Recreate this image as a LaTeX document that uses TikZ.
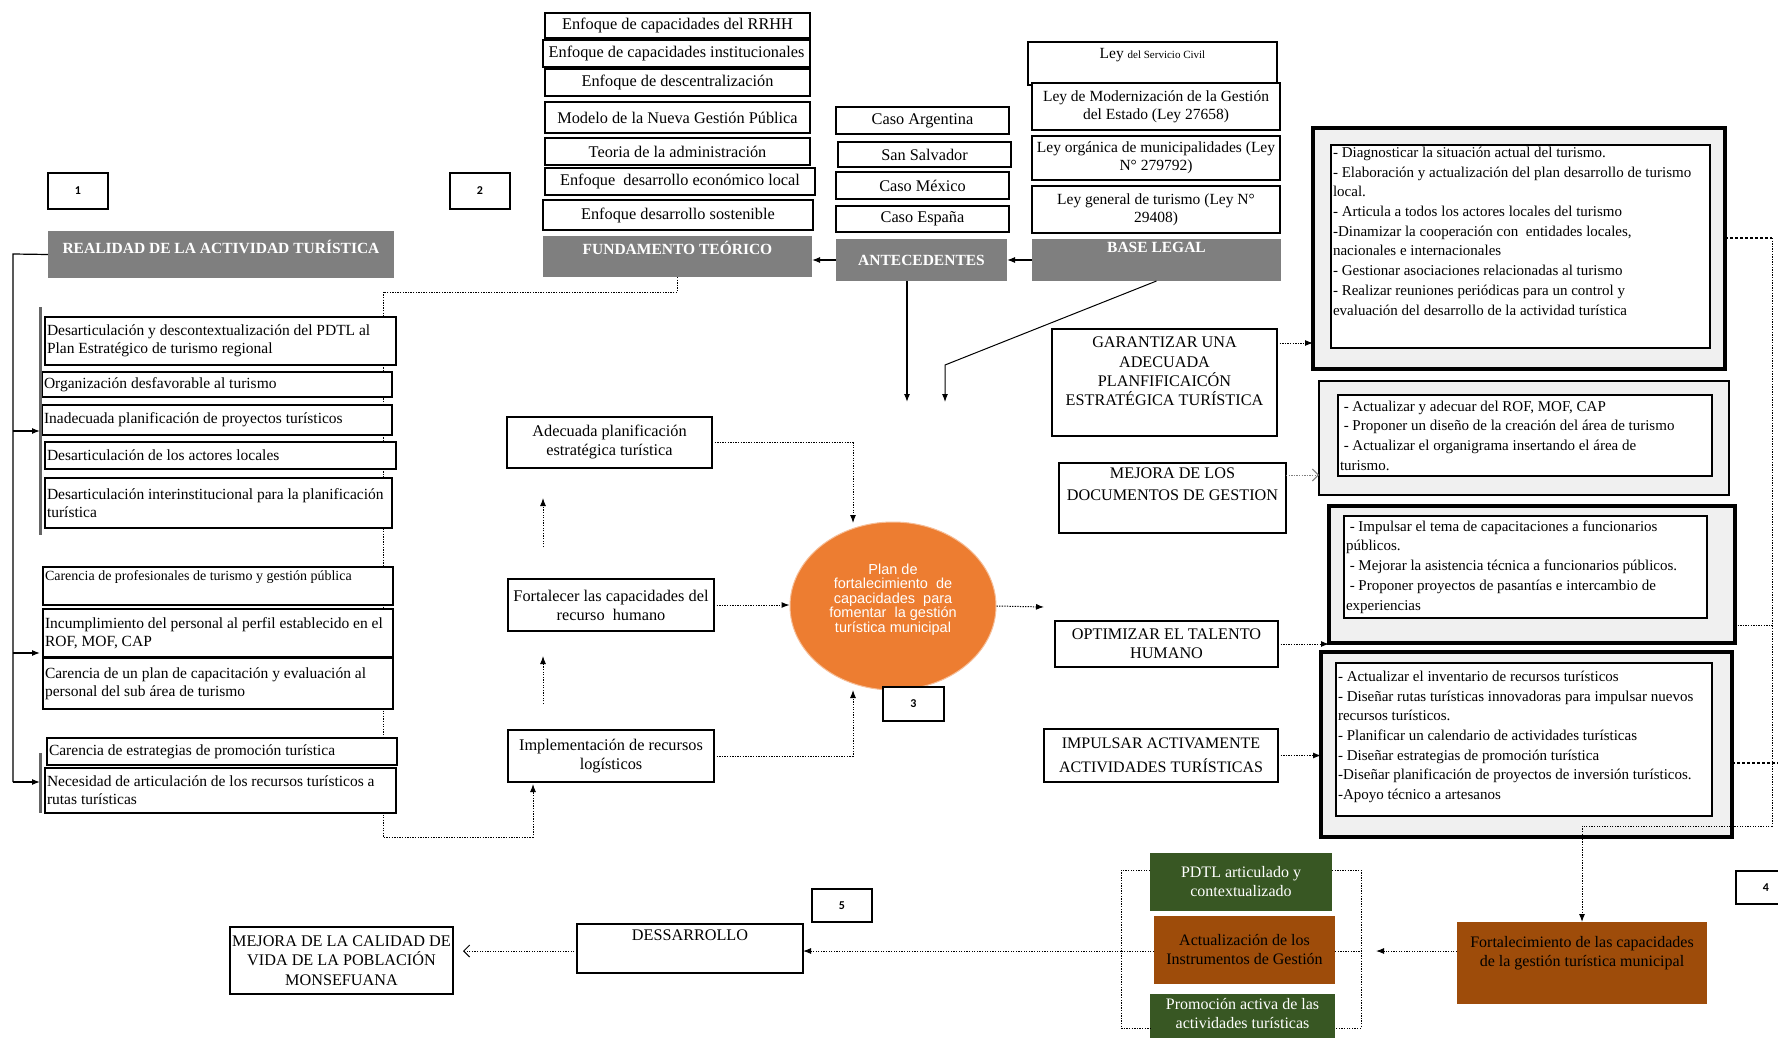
\documentclass[tikz,border=0pt]{standalone}
\usepackage{fontspec}
\setmainfont{Liberation Serif}
\newfontfamily\arialf{Liberation Sans}
\newfontfamily\calf{Carlito}
\usetikzlibrary{shapes.geometric,arrows.meta,calc}
\pgfdeclarelayer{bg}
\pgfsetlayers{bg,main}
\newcommand\setfs[2]{\fontsize{#1}{#2}\selectfont}
% #1 style, #2 name, #3 x1, #4 y1, #5 x2, #6 y2, #7 vertical pos (t/c), #8 text
\newcommand\BX[8]{\node[#1,inner sep=2pt,outer sep=0pt,anchor=north west] (#2) at (#3,#4) {\parbox[c][\dimexpr#6pt-#4pt-4pt\relax][#7]{\dimexpr#5pt-#3pt-4pt\relax}{#8}};}
\definecolor{hgray}{RGB}{127,127,127}
\definecolor{lgray}{RGB}{240,240,240}
\definecolor{orng}{RGB}{237,125,49}
\definecolor{dgreen}{RGB}{56,87,35}
\definecolor{brwn}{RGB}{158,76,10}
\begin{document}
\begin{tikzpicture}[x=1pt,y=-1pt,
  bx/.style={draw,line width=1.3pt,fill=white,font=\setfs{16.3}{19}},
  bxl/.style={draw,line width=1.3pt,fill=white,font=\setfs{15.5}{18}},
  bxs/.style={draw,line width=1.3pt,fill=white,font=\setfs{14}{16}},
  bxc/.style={draw,line width=1.3pt,fill=white,font=\setfs{16.2}{19.4}},
  hdr/.style={fill=hgray,text=white,font=\bfseries\setfs{15.5}{18}},
  nb/.style={draw,line width=2.4pt,fill=white,font=\calf\bfseries\setfs{12}{14}},
  rout/.style={draw,line width=3.2pt,fill=lgray},
  routt/.style={draw,line width=1.3pt,fill=lgray},
  rin/.style={draw,line width=1.4pt,fill=white,font=\setfs{15}{19.7}},
  grn/.style={fill=dgreen,text=white,font=\setfs{16}{19}},
  brn/.style={fill=brwn,text=black,font=\setfs{16}{19}},
  ln/.style={line width=1.2pt},
  arr/.style={line width=1.2pt,-{Latex[length=8pt,width=6pt]}},
  darr/.style={line width=1pt,dash pattern=on 1.3pt off 1.3pt,-{Latex[length=8pt,width=6pt]}},
  oarr/.style={line width=1pt,dash pattern=on 1.3pt off 1.3pt,-{Straight Barb[length=6pt,width=12pt]}},
  dots/.style={line width=1pt,dash pattern=on 1.3pt off 1.3pt},
  bdots/.style={line width=2pt,dash pattern=on 2.5pt off 2.5pt},
  bar/.style={line width=3pt,hgray!80!black}]
\useasboundingbox (0,0) rectangle (1778,1038);
\clip (0,0) rectangle (1778,1038);
\begin{pgfonlayer}{bg}
\fill[white] (0,0) rectangle (1778,1038);
\end{pgfonlayer}

% ---------------- left column ----------------
\BX{nb}{n1}{48}{173}{108}{209}{c}{\centering 1}
\BX{hdr}{realidad}{48}{231}{394}{278}{t}{\centering\vspace{7pt}REALIDAD DE LA ACTIVIDAD TURÍSTICA}
\BX{bxl}{l1}{45}{317}{396}{365}{c}{\raggedright Desarticulación y descontextualización del PDTL al\\Plan Estratégico de turismo regional}
\BX{bxl}{l2}{42}{372}{392}{397}{c}{\raggedright Organización desfavorable al turismo}
\BX{bxl}{l3}{42}{405}{392}{435}{c}{\raggedright Inadecuada planificación de proyectos turísticos}
\BX{bxl}{l4}{45}{442}{396}{469}{c}{\raggedright Desarticulación de los actores locales}
\BX{bxl}{l5}{45}{478}{392}{528}{c}{\raggedright Desarticulación interinstitucional para la planificación\\turística}
\BX{bxs}{l6}{43}{567}{393}{605}{t}{\raggedright\vspace{2pt}Carencia de profesionales de turismo y gestión pública}
\BX{bxl}{l7}{43}{609}{393}{657}{c}{\raggedright Incumplimiento del personal al perfil establecido en el\\ROF, MOF, CAP}
\BX{bxl}{l8}{43}{658}{393}{709}{c}{\raggedright Carencia de un plan de capacitación y evaluación al\\personal del sub área de turismo}
\BX{bxl}{l9}{47}{738}{397}{765}{c}{\raggedright Carencia de estrategias de promoción turística}
\BX{bxl}{l10}{45}{768}{396}{813}{c}{\raggedright Necesidad de articulación de los recursos turísticos a\\rutas turísticas}

\coordinate (trunk) at (13,254);
\coordinate (b1) at (40,431);
\coordinate (b2) at (40,653);
\coordinate (b3) at (40,782);
\coordinate (gb1t) at (40,307);
\coordinate (gb1b) at (40,535);
\coordinate (gb2t) at (40,753);
\coordinate (gb2b) at (40,813);
\draw[bar] (gb1t) -- (gb1b);
\draw[bar] (gb2t) -- (gb2b);
\draw[ln] (realidad.west) -- (trunk) -- (trunk |- b3);
\draw[arr] (trunk |- b1) -- (b1);
\draw[arr] (trunk |- b2) -- (b2);
\draw[arr] (trunk |- b3) -- (b3);

% ---------------- theory / antecedents / legal ----------------
\BX{nb}{n2}{450}{173}{510}{209}{c}{\centering 2}
\BX{bx}{e1}{545}{13}{810}{38}{c}{\centering Enfoque de capacidades del RRHH}
\BX{bx}{e2}{543}{40}{810}{67}{c}{\centering Enfoque de capacidades institucionales}
\BX{bx}{e3}{545}{69}{810}{96}{c}{\centering Enfoque de descentralización}
\BX{bx}{e4}{545}{102}{810}{133}{c}{\centering Modelo de la Nueva Gestión Pública}
\BX{bx}{e5}{545}{138}{810}{165}{c}{\centering Teoria de la administración}
\BX{bx}{e6}{545}{168}{815}{195}{c}{\centering Enfoque\ \ desarrollo económico local}
\BX{bx}{e7}{543}{200}{813}{230}{c}{\centering Enfoque desarrollo sostenible}
\BX{hdr}{fund}{543}{236}{812}{277}{t}{\centering\vspace{3pt}FUNDAMENTO TEÓRICO}

\BX{bx}{c1}{836}{107}{1009}{134}{c}{\centering Caso Argentina}
\BX{bx}{c2}{838}{142}{1011}{167}{c}{\centering San Salvador}
\BX{bx}{c3}{836}{172}{1009}{199}{c}{\centering Caso México}
\BX{bx}{c4}{836}{206}{1009}{232}{c}{\centering Caso España}
\BX{hdr}{ante}{836}{239}{1007}{281}{c}{\centering ANTECEDENTES}

\BX{bxl}{ley1}{1028}{42}{1277}{85}{t}{\centering\vspace{4pt}Ley {\setfs{11}{13}del Servicio Civil}}
\BX{bxl}{ley2}{1032}{83}{1280}{130}{c}{\centering Ley de Modernización de la Gestión\\del Estado (Ley 27658)}
\BX{bxl}{ley3}{1032}{136}{1280}{180}{c}{\centering Ley orgánica de municipalidades (Ley\\N° 279792)}
\BX{bxl}{ley4}{1032}{186}{1280}{233}{c}{\centering Ley general de turismo (Ley N°\\29408)}
\BX{hdr}{base}{1032}{239}{1281}{281}{t}{\centering\vspace{1pt}BASE LEGAL}

\draw[arr] (base.west) -- (ante.east);
\draw[arr] (ante.west) -- (ante.west -| fund.east);
\coordinate (d1) at (907,402);
\coordinate (d2k) at (945,365);
\coordinate (d2) at (945,402);
\draw[arr] (d1 |- ante.south) -- (d1);
\draw[arr,line width=1pt] (base.south) -- (d2k) -- (d2);

% ---------------- middle ----------------
\BX{bx}{ad}{507}{417}{712}{468}{c}{\centering Adecuada planificación\\estratégica turística}
\BX{bx}{fo}{508}{579}{714}{631}{c}{\centering Fortalecer las capacidades del\\recurso\ \ humano}
\BX{bx}{im}{508}{730}{714}{782}{c}{\centering Implementación de recursos\\logísticos}

\node[ellipse,fill=orng,draw=orng!50!white,line width=1pt,minimum width=206pt,minimum height=168pt,inner sep=0pt,
  text=white,font=\arialf\setfs{14.5}{14.5},align=center] (pl) at (893,606)
  {Plan de\\fortalecimiento\ \ de\\capacidades\ \ para\\fomentar\ \ la gestión\\turística municipal\\[2pt]};
\BX{nb}{n3}{883}{687}{944}{721}{c}{\centering 3}

\coordinate (pin1) at (853,523);
\coordinate (pin2) at (853,690);
\coordinate (pout) at (1044,607);
\coordinate (u1a) at (543,547);
\coordinate (u1b) at (543,498);
\coordinate (u2a) at (543,704);
\coordinate (u2b) at (543,656);
\draw[darr] (ad.east) -| (pin1);
\draw[darr] (fo.east) -- (fo.east -| pl.west);
\draw[darr] (im.east) -| (pin2);
\draw[darr] (pl.east) -- (pout);
\draw[darr] (u1a) -- (u1b);
\draw[darr] (u2a) -- (u2b);

\begin{pgfonlayer}{bg}
\coordinate (fb1) at (383,292);
\coordinate (fb2) at (383,837);
\coordinate (pim) at (533,784);
\draw[darr] (fund.south) |- (fb1) -- (fb2) -| (pim);
\end{pgfonlayer}

% ---------------- right: objectives ----------------
\BX{bxc}{gar}{1052}{329}{1277}{436}{t}{\centering\vspace{6pt}GARANTIZAR UNA\\ADECUADA\\PLANFIFICAICÓN\\ESTRATÉGICA TURÍSTICA}
\BX{bxc}{mej}{1059}{463}{1286}{533}{t}{\centering\vspace{3pt}\setfs{16.2}{22}MEJORA DE LOS\\DOCUMENTOS DE GESTION}
\BX{bxc}{opt}{1055}{621}{1278}{667}{c}{\centering OPTIMIZAR EL TALENTO\\HUMANO}
\BX{bxc}{imp}{1044}{729}{1278}{782}{c}{\centering\setfs{16}{24}IMPULSAR ACTIVAMENTE\\ACTIVIDADES TURÍSTICAS}

\BX{rout}{r1o}{1313}{128}{1725}{369}{c}{\leavevmode}
\BX{rin}{r1i}{1331}{145}{1710}{348}{t}{\raggedright - Diagnosticar la situación actual del turismo.\\- Elaboración y actualización del plan desarrollo de turismo\\local.\\- Articula a todos los actores locales del turismo\\-Dinamizar la cooperación con\ \ entidades locales,\\nacionales e internacionales\\- Gestionar asociaciones relacionadas al turismo\\- Realizar reuniones periódicas para un control y\\evaluación del desarrollo de la actividad turística}
\BX{routt}{r2o}{1319}{381}{1729}{495}{c}{\leavevmode}
\BX{rin}{r2i}{1338}{395}{1712}{476}{c}{\raggedright\ - Actualizar y adecuar del ROF, MOF, CAP\\\ - Proponer un diseño de la creación del área de turismo\\\ - Actualizar el organigrama insertando el área de\\turismo.}
\BX{rout}{r3o}{1329}{506}{1735}{643}{c}{\leavevmode}
\BX{rin}{r3i}{1344}{516}{1707}{618}{c}{\raggedright\ - Impulsar el tema de capacitaciones a funcionarios\\públicos.\\\ - Mejorar la asistencia técnica a funcionarios públicos.\\\ - Proponer proyectos de pasantías e intercambio de\\experiencias}
\BX{rout}{r4o}{1321}{652}{1732}{837}{c}{\leavevmode}
\BX{rin}{r4i}{1336}{663}{1712}{816}{t}{\raggedright\vspace{6pt}- Actualizar el inventario de recursos turísticos\\- Diseñar rutas turísticas innovadoras para impulsar nuevos\\recursos turísticos.\\- Planificar un calendario de actividades turísticas\\- Diseñar estrategias de promoción turística\\-Diseñar planificación de proyectos de inversión turísticos.\\-Apoyo técnico a artesanos}

\draw[darr] ($(gar.north east)+(0,14)$) coordinate (g1a) -- (g1a -| r1o.west);
\draw[oarr,hgray] ($(mej.north east)+(0,12)$) coordinate (m1a) -- (m1a -| r2o.west);
\draw[darr] (opt.east) -- (opt.east -| r3o.west);
\draw[darr] (imp.east) -- (imp.east -| r4o.west);

\coordinate (rt) at (1772,238);
\coordinate (rb) at (1772,826);
\coordinate (r3c) at (1772,625);
\coordinate (r4c) at (1778,763);
\draw[bdots] (r1o.east |- rt) -- (rt);
\draw[dots] (rt) -- (rb);
\draw[dots] (r3c -| r3o.east) -- (r3c);
\draw[bdots] (r4c -| r4o.east) -- (r4c);

% ---------------- bottom ----------------
\BX{brn}{fort}{1457}{922}{1707}{1004}{t}{\centering\vspace{12pt}Fortalecimiento de las capacidades\\de la gestión turística municipal}
\draw[darr] (rb) -| (fort.north);
\BX{nb}{n4}{1736}{871}{1796}{904}{c}{\centering 4}

\BX{grn}{g1}{1150}{853}{1332}{911}{c}{\centering PDTL articulado y\\contextualizado}
\BX{brn}{g2}{1154}{916}{1335}{984}{c}{\centering Actualización de los\\Instrumentos de Gestión}
\BX{grn}{g3}{1150}{994}{1335}{1048}{t}{\centering\vspace{2pt}Promoción activa de las\\actividades turísticas}

\coordinate (mid) at (1121,951);
\coordinate (bl1) at (1121,870);
\coordinate (bl2) at (1121,1028);
\coordinate (br1) at (1361,870);
\coordinate (br2) at (1361,1028);
\coordinate (brm) at (1361,951);
\coordinate (fa) at (1376,951);
\coordinate (ma) at (463,951);
\draw[dots] (g1.west |- bl1) -- (bl1) -- (bl2) -- (bl2 -| g3.west);
\draw[dots] (g1.east |- br1) -- (br1) -- (br2) -- (br2 -| g3.east);
\draw[dots] (g2.east |- brm) -- (brm);
\draw[dots] (g2.west |- mid) -- (mid);
\draw[darr] (fort.west |- fa) -- (fa);

\BX{bxc}{dess}{577}{924}{803}{973}{t}{\centering\vspace{4pt}DESSARROLLO}
\BX{nb}{n5}{812}{889}{872}{922}{c}{\centering 5}
\BX{bxc}{mejc}{230}{927}{453}{994}{c}{\centering MEJORA DE LA CALIDAD DE\\VIDA DE LA POBLACIÓN\\MONSEFUANA}
\draw[darr] (mid) -- (mid -| dess.east);
\draw[oarr] (dess.west |- ma) -- (ma);
\end{tikzpicture}
\end{document}
